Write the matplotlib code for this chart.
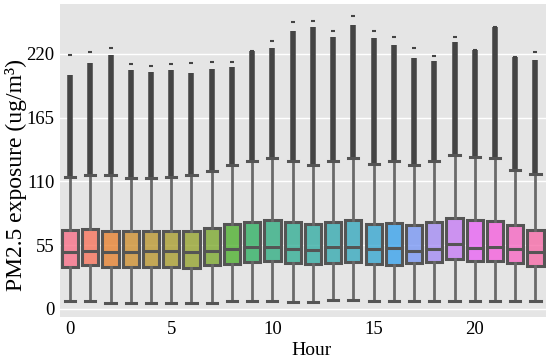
import matplotlib
matplotlib.use("Agg")
import matplotlib.pyplot as plt
import seaborn as sns
import numpy as np

hours = list(range(24))
q1 = [36.4, 37.8, 36.1, 36.1, 36.1, 36.1, 35.6, 37.8, 39.0, 40.4, 41.3, 39.8,
      38.4, 39.8, 40.6, 39.0, 37.5, 39.3, 40.4, 42.7, 41.3, 41.3, 39.9, 37.0]
median = [49.0, 50.2, 49.4, 49.4, 50.0, 49.6, 49.0, 50.2, 51.4, 53.7, 53.7, 51.4,
          50.8, 53.7, 53.7, 51.4, 52.5, 49.6, 51.4, 55.7, 52.8, 53.7, 51.4, 49.0]
q3 = [67.8, 69.2, 67.2, 67.2, 67.2, 67.2, 67.2, 70.1, 72.9, 75.3, 76.4, 75.0,
      72.9, 75.3, 76.4, 72.9, 73.8, 72.4, 75.0, 78.7, 76.7, 75.8, 72.4, 68.0]
whis_low = [6.7, 6.7, 5.0, 5.0, 5.0, 5.0, 5.0, 5.0, 6.7, 6.7, 6.7, 6.0,
            6.0, 7.9, 7.9, 6.5, 6.9, 6.5, 6.5, 6.5, 6.5, 6.5, 6.5, 6.5]
whis_high = [113.8, 115.3, 115.3, 112.7, 112.7, 113.8, 115.3, 119.0, 123.9, 127.6, 130.0, 127.6,
             123.9, 127.6, 130.0, 125.3, 127.6, 123.9, 127.6, 132.8, 131.4, 130.0, 120.2, 116.4]
flier_dense_top = [201.6, 211.7, 218.9, 205.9, 204.5, 206.2, 203.3, 206.8, 208.3, 222.0, 224.9, 240.0,
                   242.8, 234.1, 245.0, 233.3, 227.5, 216.0, 214.0, 229.8, 223.2, 243.3, 216.9, 214.8]
flier_max = [218.9, 221.2, 224.6, 211.0, 209.6, 211.0, 212.0, 212.6, 213.0, 222.0, 230.7, 247.6,
             248.5, 239.9, 252.8, 239.9, 234.7, 224.9, 218.3, 234.7, 223.2, 243.3, 216.9, 221.2]

xtick_vals = [0, 5, 10, 15, 20]
ytick_vals = [0, 55, 110, 165, 220]

plt.rcParams['font.family'] = ['Liberation Serif', 'DejaVu Serif']

fig = plt.figure(figsize=(5.5, 3.59), dpi=100)
ax = fig.add_axes([0.109, 0.117, 0.883, 0.872])
ax.set_facecolor('#E5E5E5')
for s in ax.spines.values():
    s.set_visible(False)

palette = sns.color_palette("husl", 24)

stats = []
for i in hours:
    stats.append(dict(q1=q1[i], med=median[i], q3=q3[i],
                      whislo=whis_low[i], whishi=whis_high[i], fliers=[]))

line_col = '#555555'
whisk_col = '#6a6a6a'
bp = ax.bxp(stats, positions=hours, widths=0.8, patch_artist=True,
            showfliers=False,
            boxprops=dict(edgecolor=line_col, linewidth=2.2),
            medianprops=dict(color=line_col, linewidth=2.2),
            whiskerprops=dict(color=whisk_col, linewidth=2.0),
            capprops=dict(color=line_col, linewidth=2.2),
            capwidths=0.5, zorder=3)
for patch, c in zip(bp['boxes'], palette):
    patch.set_facecolor((c[0], c[1], c[2], 0.8))

# dense outlier columns
ax.vlines(hours, whis_high, flier_dense_top, colors='#444444', linewidth=4.0, zorder=2)
ax.scatter(hours, flier_max, s=6, marker='_', color='#444444', linewidths=1.5, zorder=2)

ax.set_xlim(-0.5, 23.5)
ax.set_ylim(-7, 263)
ax.set_xticks(xtick_vals)
ax.set_xticklabels([str(v) for v in xtick_vals])
ax.set_yticks(ytick_vals)
ax.set_yticklabels([str(v) for v in ytick_vals])
ax.tick_params(axis='both', length=0, labelsize=13.5)
ax.tick_params(axis='x', pad=3)
ax.tick_params(axis='y', pad=4)
ax.yaxis.grid(True, color='white', linewidth=1.0)
ax.set_axisbelow(True)
ax.set_xlabel('Hour', fontsize=14)
ax.xaxis.set_label_coords(0.517, -0.080)
ax.set_ylabel('PM2.5 exposure (ug/m³)', fontsize=17)
ax.yaxis.set_label_coords(-0.067, 0.455)

fig.savefig('out.png', dpi=100)
